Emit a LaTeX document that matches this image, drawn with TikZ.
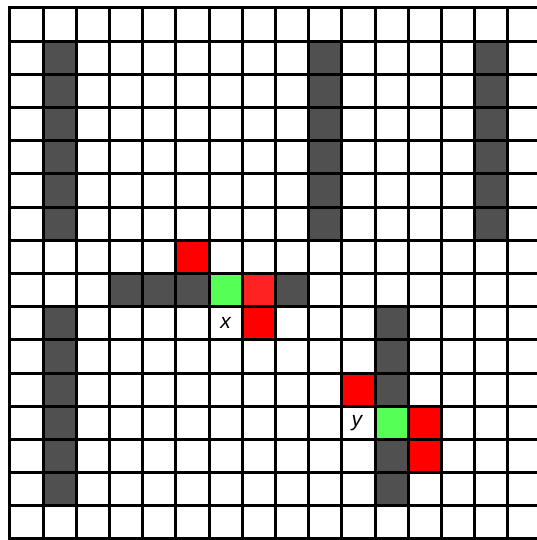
\documentclass[tikz,border=0pt]{standalone}
\usepackage{fontspec}
\setsansfont{Liberation Sans}
\usepackage{tikz}

\definecolor{wall}{HTML}{505050}
\definecolor{agent}{HTML}{55FF55}
\definecolor{hit}{HTML}{FF0000}
\definecolor{hitlight}{HTML}{FF2222}

\begin{document}
\begin{tikzpicture}[
    gridline/.style={line width=2.6pt,black,line cap=rect},
    lbl/.style={font=\sffamily\itshape\fontsize{18}{20}\selectfont,inner sep=0pt}]

\useasboundingbox (-0.30,-0.03) rectangle (15.87,16.24);

% walls
\foreach \c in {1,9,14}
  \foreach \y in {9,...,14}
    \fill[wall] (\c,\y) rectangle ++(1,1);
\foreach \c in {1,11}
  \foreach \y in {1,...,6}
    \fill[wall] (\c,\y) rectangle ++(1,1);
\foreach \c in {3,4,5,8}
  \fill[wall] (\c,7) rectangle ++(1,1);

% agents
\fill[agent] (6,7) rectangle ++(1,1);
\fill[agent] (11,3) rectangle ++(1,1);

% neighbours
\fill[hitlight] (7,7) rectangle ++(1,1);
\fill[hit] (5,8) rectangle ++(1,1);
\fill[hit] (7,6) rectangle ++(1,1);
\fill[hit] (10,4) rectangle ++(1,1);
\fill[hit] (12,3) rectangle ++(1,1);
\fill[hit] (12,2) rectangle ++(1,1);

\draw[gridline] (0,0) grid (16,16);

\node[lbl] (x) at (6.5,6.5) {x};
\node[lbl] (y) at (10.45,3.5) {y};
\end{tikzpicture}
\end{document}
